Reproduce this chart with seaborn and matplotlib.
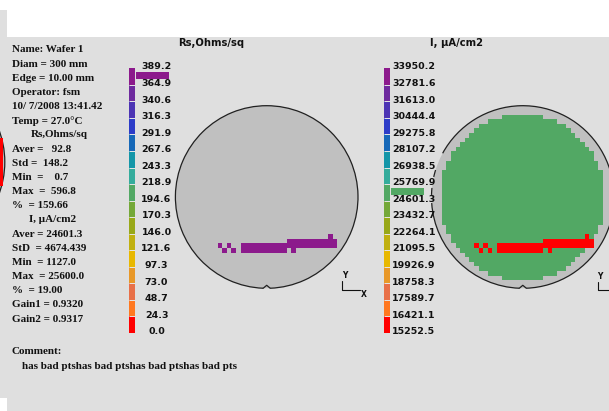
import numpy as np
import matplotlib
matplotlib.use("Agg")
import matplotlib.pyplot as plt
import seaborn as sns
from matplotlib.colors import ListedColormap, BoundaryNorm
from matplotlib.patches import Circle, Arc, Rectangle
from matplotlib.lines import Line2D

sns.set_theme(style="white")
plt.rcParams["font.family"] = ["DejaVu Sans"]

# ---------------------------------------------------------------- data
# colour scale, highest bin first
SCALE_COLORS = ["#8c1a8c", "#6e2a9e", "#4c34b4", "#2c3cc8", "#1668b8", "#1496a8",
                "#34ac9c", "#52a864", "#74a838", "#98a818", "#c0b010", "#e8b800",
                "#e89828", "#e87048", "#ff7820", "#ff0000"]

RS_LEVELS = [389.2, 364.9, 340.6, 316.3, 291.9, 267.6, 243.3, 218.9, 194.6,
             170.3, 146.0, 121.6, 97.3, 73.0, 48.7, 24.3, 0.0]
I_LEVELS = [33950.2, 32781.6, 31613.0, 30444.4, 29275.8, 28107.2, 26938.5,
            25769.9, 24601.3, 23432.7, 22264.1, 21095.5, 19926.9, 18758.3,
            17589.7, 16421.1, 15252.5]

HEADER = ["Name: Wafer 1", "Diam = 300 mm", "Edge = 10.00 mm", "Operator: fsm",
          "10/ 7/2008 13:41.42", "Temp = 27.0\u00b0C"]
RS_TITLE = "Rs,Ohms/sq"
RS_STATS = ["Aver =   92.8", "Std =  148.2", "Min  =    0.7", "Max  =  596.8",
            "%  = 159.66"]
I_TITLE = "I, \u00b5A/cm2"
I_STATS = ["Aver = 24601.3", "StD  = 4674.439", "Min  = 1127.0", "Max  = 25600.0",
           "%  = 19.00", "Gain1 = 0.9320", "Gain2 = 0.9317"]
COMMENT = ["Comment:", "has bad ptshas bad ptshas bad ptshas bad pts"]

# measurement grid: 40 rows x 41 columns of sites; the middle column sits on
# the wafer centre, rows split evenly about it
N_ROWS, N_COLS = 40, 41
SITE_RADIUS = 17.98         # in sites, edge exclusion applied
I_SITE = 25600.0            # uA/cm2 on good sites
I_BAD = 1127.0              # uA/cm2 on bad sites
RS_BAD = 375.0              # Ohms/sq on bad sites
BAD_SITES = {
    28: [34],
    29: list(range(25, 36)),
    30: [10, 12] + list(range(15, 36)),
    31: [11, 13] + list(range(15, 25)) + [26],
}

# ---------------------------------------------------------------- layout
W, H = 609, 411
P = 4.6                      # px per site
WAFER_R = 91.3               # px
LEFT_WAFER = dict(circle=(266.7, 197.0), grid=(265.9, 197.4))
RIGHT_WAFER = dict(circle=(522.8, 197.0), grid=(522.4, 197.4))
BAR_TOP, BAR_BOT = 68.3, 333.0
GRAY = "#dfdfdf"
WAFER_GRAY = "#c0c0c0"
EDGE = "#202020"

fig = plt.figure(figsize=(W / 100, H / 100), dpi=100, facecolor=GRAY)


def px_axes(x0, y0, w, h):
    return fig.add_axes([x0 / W, 1 - (y0 + h) / H, w / W, h / H])


def ftext(x, y, s, **kw):
    fig.text(x / W, 1 - y / H, s, **kw)


def fline(xs, ys, **kw):
    fig.add_artist(Line2D([x / W for x in xs], [1 - y / H for y in ys],
                          transform=fig.transFigure, **kw))


def frect(x, y, w, h, color, z=-5):
    fig.add_artist(Rectangle((x / W, 1 - (y + h) / H), w / W, h / H,
                             transform=fig.transFigure, fc=color, ec="none",
                             zorder=z))


# white border of the captured panel
frect(7, 0, W - 7, 37, "white")
frect(0, 0, 7, 10, "white")
frect(0, 398, 7, 13, "white")

# sliver of the neighbouring wafer at the left edge
edge_ax = px_axes(0, 100, 7, 120)
edge_ax.set_xlim(0, 7)
edge_ax.set_ylim(220, 100)
edge_ax.axis("off")
edge_ax.add_patch(Circle((-86.5, 162), 91.3, fc=WAFER_GRAY, ec=EDGE, lw=0.9))
edge_ax.add_patch(Rectangle((0, 138), 3.3, 48, fc="#ff0000", ec="none", zorder=3))

# ---------------------------------------------------------------- maps
rr, cc = np.mgrid[0:N_ROWS, 0:N_COLS]
dy = rr + 0.5 - N_ROWS / 2
dx = cc - (N_COLS - 1) / 2
inside = dx ** 2 + dy ** 2 <= SITE_RADIUS ** 2
rs_map = np.full((N_ROWS, N_COLS), np.nan)
i_map = np.full((N_ROWS, N_COLS), np.nan)
i_map[inside] = I_SITE
for r, cols in BAD_SITES.items():
    rs_map[r, cols] = RS_BAD
    i_map[r, cols] = I_BAD


def make_cmap(levels):
    cmap = ListedColormap(SCALE_COLORS[::-1])
    cmap.set_under(SCALE_COLORS[-1])
    cmap.set_over(SCALE_COLORS[0])
    norm = BoundaryNorm(levels[::-1], cmap.N)
    return cmap, norm


def draw_wafer(geom, grid, levels, outline_spans):
    (cx, cy), (gx, gy) = geom["circle"], geom["grid"]
    x0, y0 = gx - N_COLS / 2 * P, gy - N_ROWS / 2 * P
    ax = px_axes(x0, y0, N_COLS * P, N_ROWS * P)
    cmap, norm = make_cmap(levels)
    R = WAFER_R / P
    xc, yc = (cx - x0) / P, (cy - y0) / P
    ax.add_patch(Circle((xc, yc), R, fc=WAFER_GRAY, ec="none", zorder=0,
                        clip_on=False))
    sns.heatmap(grid, ax=ax, cmap=cmap, norm=norm, cbar=False,
                mask=np.isnan(grid), xticklabels=False, yticklabels=False)
    ax.axis("off")
    # outline (angles measured with y pointing down, notch at 90 deg)
    for t1, t2 in outline_spans:
        ax.add_patch(Arc((xc, yc), 2 * R, 2 * R, theta1=t1, theta2=t2,
                         color=EDGE, lw=0.9, zorder=5, clip_on=False))
    d = np.degrees(3.5 / WAFER_R)
    yb = yc + R * np.cos(np.radians(d))
    ax.plot([xc - 3.5 / P, xc, xc + 3.5 / P], [yb, yc + R - 3 / P, yb],
            color=EDGE, lw=0.9, zorder=5, clip_on=False)
    return ax


NOTCH = np.degrees(3.5 / WAFER_R)
draw_wafer(LEFT_WAFER, rs_map, RS_LEVELS, [(90 + NOTCH, 450 - NOTCH)])
draw_wafer(RIGHT_WAFER, i_map, I_LEVELS,
           [(90 + NOTCH, 176.2), (181.3, 185.7), (192.7, 197.2),
            (208.6, 450 - NOTCH)])

# ---------------------------------------------------------------- scales


def draw_scale(x0, levels, values, label_x, ha):
    ax = px_axes(x0, BAR_TOP, 60, BAR_BOT - BAR_TOP)
    ax.set_xlim(0, 60)
    ax.set_ylim(0, 16)
    ax.axis("off")
    asc = SCALE_COLORS[::-1]
    ax.bar(np.full(16, 3.0), 1.0, bottom=np.arange(16), width=6, color=asc,
           linewidth=0)
    ax.hlines(np.arange(1, 16), 0, 6, color="#e6e6e6", lw=0.7)
    counts, _ = np.histogram(values[~np.isnan(values)], bins=levels[::-1])
    frac = counts / counts.max()
    ax.barh(np.arange(16) + 0.55, frac * 33.5, left=6.8, height=0.42,
            color=asc, linewidth=0)
    for k, lv in enumerate(levels):
        ax.text(label_x, 16 - k + 0.08, f"{lv:.1f}", ha=ha, va="center",
                fontsize=6.8, fontweight="bold", color="#111111")


draw_scale(129, RS_LEVELS, rs_map, 27.5, "center")
draw_scale(384, I_LEVELS, i_map, 8, "left")

# ---------------------------------------------------------------- titles
ftext(211, 42.5, RS_TITLE, ha="center", va="center", fontsize=7.2,
      fontweight="bold", color="#111111")
ftext(457, 43, I_TITLE, ha="center", va="center", fontsize=7.2,
      fontweight="bold", color="#111111")

# ---------------------------------------------------------------- stats panel
serif = dict(family="Liberation Serif", fontweight="bold", fontsize=8,
             va="center", color="#111111")
lines = HEADER + [RS_TITLE] + RS_STATS + [I_TITLE] + I_STATS
for k, s in enumerate(lines):
    x = 12
    if s == RS_TITLE:
        x = 31
    elif s == I_TITLE:
        x = 29
    ftext(x, 50 + 14.165 * k, s, **serif)
ftext(12, 352, COMMENT[0], **serif)
ftext(22, 366, COMMENT[1], **serif)

# ---------------------------------------------------------------- axis marks
small = dict(fontsize=5.5, fontweight="bold", ha="center", va="center",
             color="#111111")
ftext(345, 276, "Y", **small)
fline([341.5, 341.5, 359.5], [281, 290, 290], color="#111111", lw=0.8)
ftext(363.5, 294.5, "X", **small)
ftext(600, 276.5, "Y", **small)
fline([598, 598, 612], [282, 290, 290], color="#111111", lw=0.8)

fig.savefig("out.png", dpi=100, facecolor=GRAY)
